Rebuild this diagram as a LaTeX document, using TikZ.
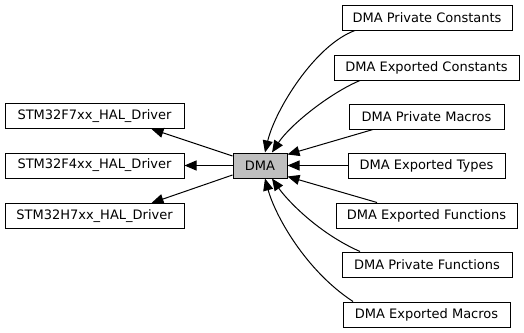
\documentclass[tikz,border=0pt]{standalone}
\usepackage{fontspec}
\setmainfont{DejaVu Sans}
\usetikzlibrary{arrows.meta}
\begin{document}
\begin{tikzpicture}[x=1pt,y=-1pt,
  box/.style={draw=black,line width=1pt,fill=white,inner sep=0pt,minimum height=25pt,
    font=\fontsize{13}{15}\selectfont,text=black},
  cur/.style={box,fill=black!25},
  edge/.style={draw=black,line width=1pt,-{Triangle[length=12pt,width=10pt]}}]
\useasboundingbox (0,0) rectangle (524,332);
% left column
\node[box,minimum width=179pt] (f7) at (94.5,116) {STM32F7xx\_HAL\_Driver};
\node[box,minimum width=179pt] (f4) at (94.5,165.5) {STM32F4xx\_HAL\_Driver};
\node[box,minimum width=179pt] (h7) at (94.5,216) {STM32H7xx\_HAL\_Driver};
% centre
\node[cur,minimum width=54pt] (dma) at (260,165.5) {DMA};
% right column
\node[box,minimum width=170pt] (pc) at (427,17.5) {DMA Private Constants};
\node[box,minimum width=185pt] (ec) at (426.5,67.5) {DMA Exported Constants};
\node[box,minimum width=155pt] (pm) at (426.5,116.5) {DMA Private Macros};
\node[box,minimum width=157pt] (et) at (426.5,165.5) {DMA Exported Types};
\node[box,minimum width=181pt] (ef) at (426.5,215.5) {DMA Exported Functions};
\node[box,minimum width=170pt] (pf) at (427,264.5) {DMA Private Functions};
\node[box,minimum width=167pt] (em) at (426.5,314.5) {DMA Exported Macros};
% edges to the left
\draw[edge] (dma.west) -- (f4.east);
\draw[edge] ([yshift=9.5pt]dma.west) -- ([xshift=-33pt]f7.south east);
\draw[edge] ([yshift=-9.5pt]dma.west) -- ([xshift=-33pt]h7.north east);
% edges to DMA
\draw[edge] ([xshift=-72pt]pc.south) .. controls (315,45) and (275,110) .. ([xshift=5pt]dma.north);
\draw[edge] ([xshift=-66.5pt]ec.south) .. controls (330,93) and (290,125) .. ([xshift=12pt]dma.north);
\draw[edge] ([xshift=-53.5pt]pm.south) -- ([yshift=-2pt]dma.north east);
\draw[edge] (et.west) -- (dma.east);
\draw[edge] ([xshift=-49.5pt]ef.north) -- ([yshift=2pt]dma.south east);
\draw[edge] ([xshift=-67pt]pf.north) .. controls (318,233) and (287,200) .. ([xshift=12pt]dma.south);
\draw[edge] ([xshift=-73.5pt]em.north) .. controls (305,270) and (275,215) .. ([xshift=5pt]dma.south);
\end{tikzpicture}
\end{document}
